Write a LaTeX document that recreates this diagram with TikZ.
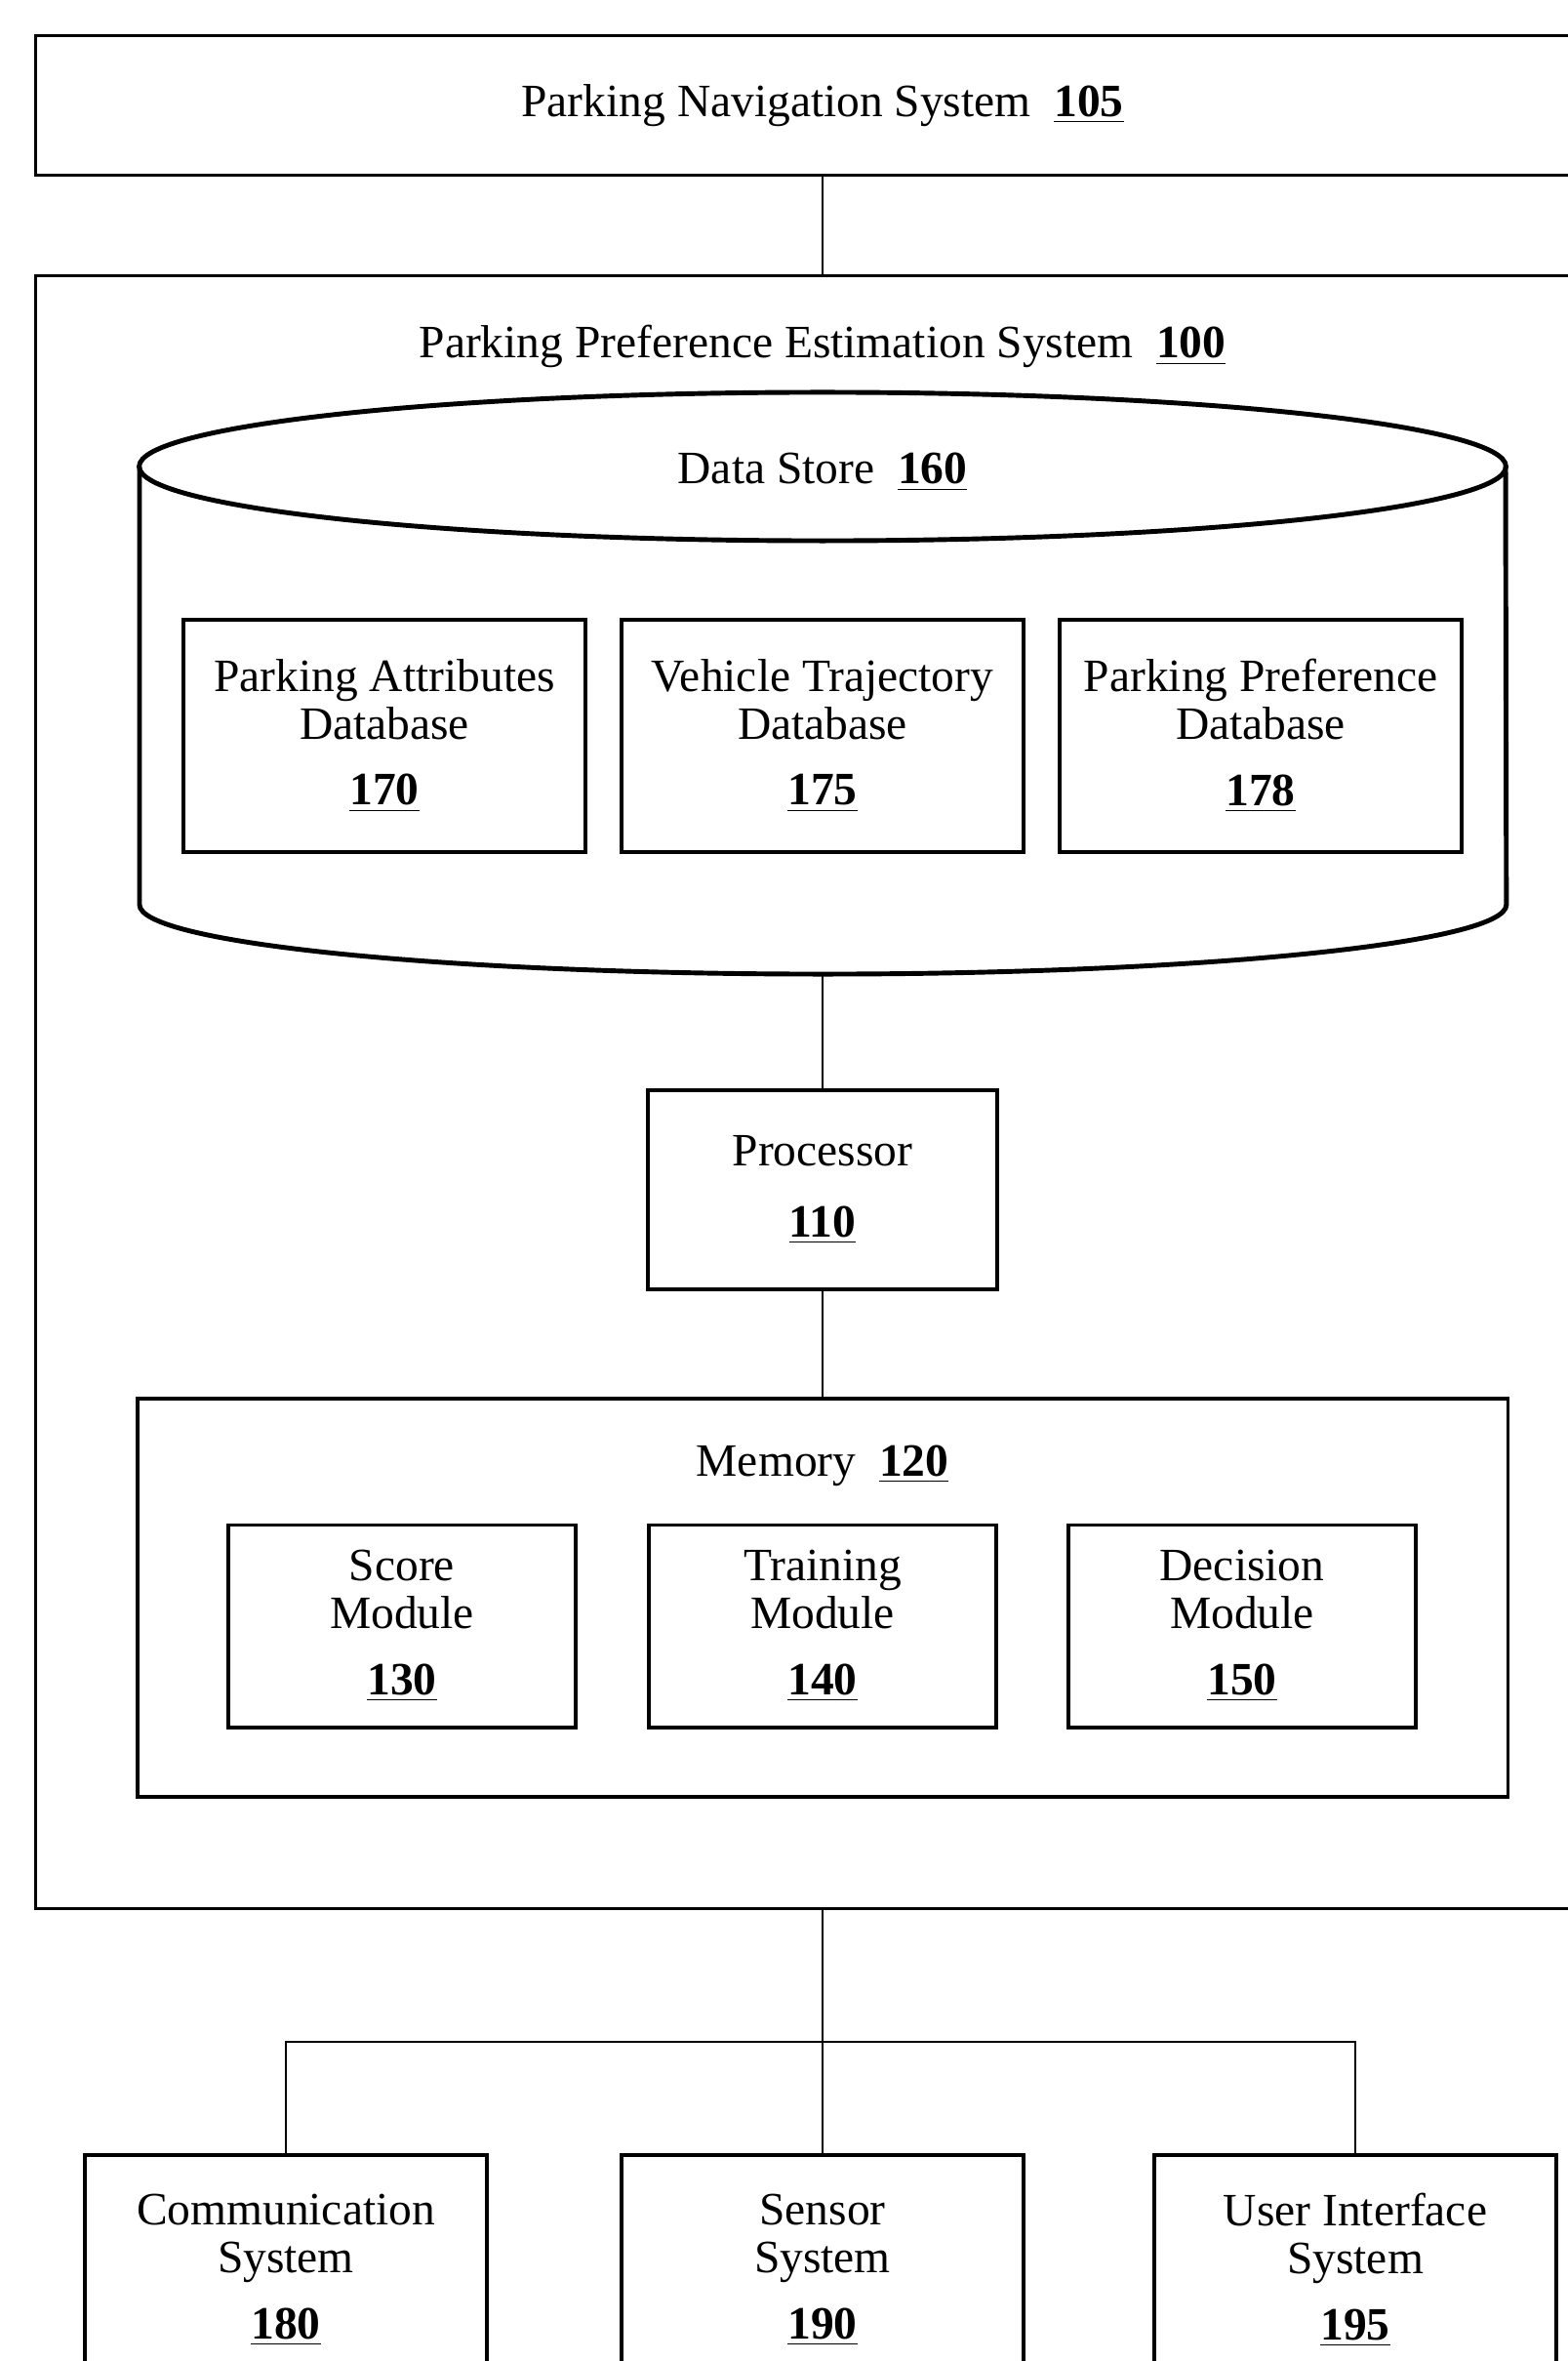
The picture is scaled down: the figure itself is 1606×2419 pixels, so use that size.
\documentclass[tikz,border=0pt]{standalone}
\usepackage{fontspec}
\setmainfont{Liberation Serif}

\newcommand{\partno}[1]{\underline{\textbf{#1}}}

\begin{document}
\begin{tikzpicture}
  [x=0.01cm, y=-0.01cm, every node/.style={font=\fontsize{13.5pt}{13.8pt}\selectfont}]

  \tikzstyle{box} = [draw, rectangle, align=center, line width=1.1pt, inner sep=0pt]
  \tikzstyle{dbbox} = [box, minimum width=4.11cm, minimum height=2.37cm]
  \tikzstyle{module} = [box, minimum width=3.56cm, minimum height=2.07cm]
  \tikzstyle{subsys} = [box, minimum width=4.12cm, minimum height=2.36cm]
  \tikzstyle{link} = [line width=0.7pt]

  \useasboundingbox (0,0) rectangle (1606,2419);

  % outer systems
  \node[box, minimum width=16.12cm, minimum height=1.43cm] (105) at (843,108)
       {Parking Navigation System\hspace{0.5em}\partno{105}};
  \node[box, minimum width=16.12cm, minimum height=16.72cm] (100) at (843,1119) {};
  \node[anchor=base] (100t) at (843,367)
       {Parking Preference Estimation System\hspace{0.5em}\partno{100}};

  % data store cylinder
  \draw[line width=1.4pt] (843,478) ellipse [x radius=7cm, y radius=0.76cm];
  \draw[line width=1.4pt] (143,478) -- (143,927)
       arc [start angle=180, end angle=360, x radius=7cm, y radius=0.71cm] -- (1543,478);
  \node[anchor=base] (160) at (843,496) {Data Store\hspace{0.5em}\partno{160}};
  \coordinate (160b) at (843,998);

  \node[dbbox] (170) at (394,754) {Parking Attributes\\Database\\[5.5pt]\partno{170}};
  \node[dbbox] (175) at (843,754) {Vehicle Trajectory\\Database\\[5.5pt]\partno{175}};
  \node[dbbox] (178) at (1292,754) {Parking Preference\\Database\\[5.5pt]\partno{178}};

  % processor and memory
  \node[box, minimum width=3.58cm, minimum height=2.04cm] (110) at (843,1219)
       {Processor\\[7pt]\partno{110}};
  \node[box, minimum width=14.04cm, minimum height=4.08cm] (120) at (843,1637) {};
  \node[anchor=base] (120t) at (843,1512) {Memory\hspace{0.5em}\partno{120}};

  \node[module] (130) at (412,1666) {Score\\Module\\[5.5pt]\partno{130}};
  \node[module] (140) at (843,1666) {Training\\Module\\[5.5pt]\partno{140}};
  \node[module] (150) at (1273,1666) {Decision\\Module\\[5.5pt]\partno{150}};

  % subsystems
  \node[subsys] (180) at (293,2326) {Communication\\System\\[5.5pt]\partno{180}};
  \node[subsys] (190) at (843,2326) {Sensor\\System\\[5.5pt]\partno{190}};
  \node[subsys] (195) at (1389,2326) {User Interface\\System\\[5.5pt]\partno{195}};

  \path[link] (105) edge (100)
              (160b) edge (110)
              (110) edge (120)
              (100) edge (190);

  \coordinate (bus) at (843,2092);
  \draw[link] (180) |- (bus) -| (195);
\end{tikzpicture}
\end{document}
